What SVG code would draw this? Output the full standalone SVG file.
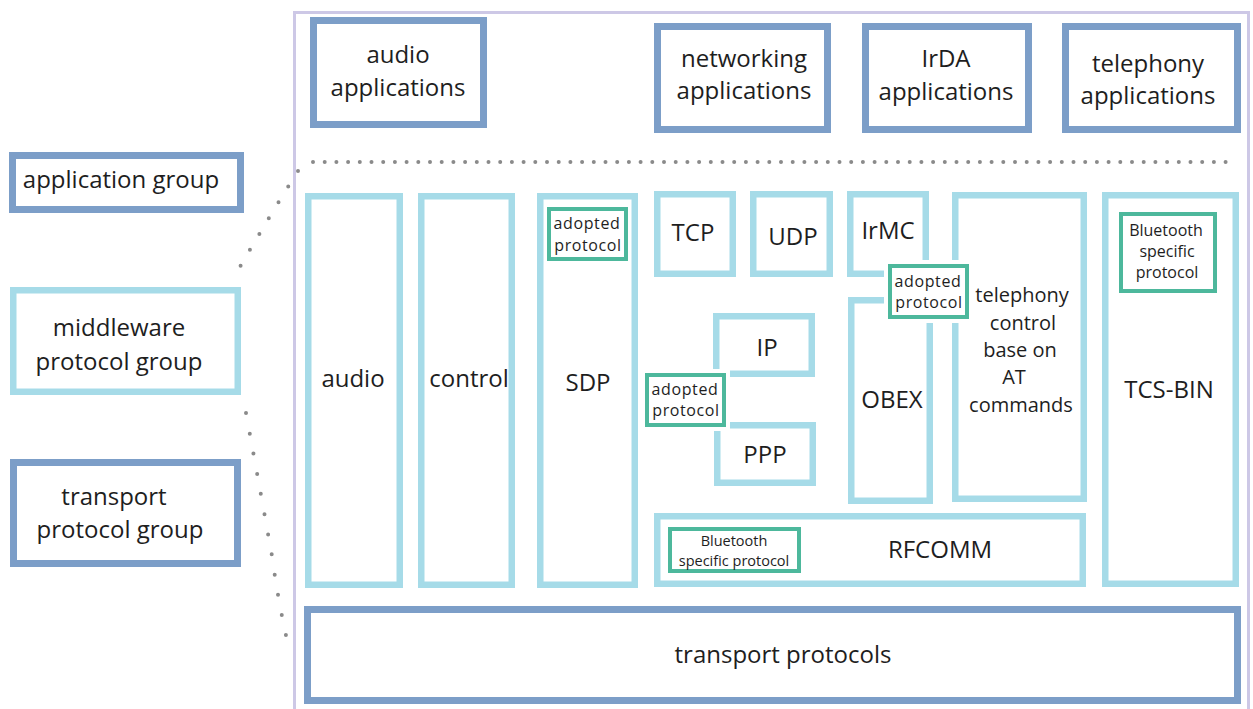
<svg xmlns="http://www.w3.org/2000/svg" width="1253" height="709" viewBox="0 0 1253 709">
<style>
text{font-family:"Open Sans","Liberation Sans",sans-serif;fill:#1e1e1e;text-anchor:middle}
.t{font-size:24px}
.m{font-size:20px}
.s{font-size:16px;letter-spacing:0.6px}
.xs{font-size:16px}
.xxs{font-size:14.5px}
.app{fill:#fff;stroke:#7c9ec8;stroke-width:7}
.mid{fill:#fff;stroke:#a6dbe8;stroke-width:6.5}
.ado{fill:#fff;stroke:#4db89c;stroke-width:4}
.pad{fill:#fff;stroke:none}
.dot{fill:none;stroke:#8a8a8a;stroke-width:4;stroke-linecap:round}
</style>
<rect width="1253" height="709" fill="#fff"/>
<rect id="container" x="294.5" y="12.5" width="954" height="710" fill="none" stroke="#cdc8e6" stroke-width="3"/>
<g id="connectors">
<path class="dot" d="M313,162 H1231" stroke-dasharray="0 11.7"/>
<path class="dot" d="M298,171 Q270,215 237,272" stroke-dasharray="0 18.5"/>
<path class="dot" d="M246,413 Q262,500 272,556 Q278,600 287,640" stroke-dasharray="0 20.5"/>
</g>
<g id="audio-applications"><rect class="app" x="313.5" y="20.5" width="170" height="104"/><text class="t" x="398" y="63">audio</text><text class="t" x="398" y="96">applications</text></g>
<g id="networking-applications"><rect class="app" x="657.5" y="26.5" width="170" height="103"/><text class="t" x="744" y="67">networking</text><text class="t" x="744" y="99">applications</text></g>
<g id="irda-applications"><rect class="app" x="865.5" y="26.5" width="163" height="103"/><text class="t" x="946" y="67">IrDA</text><text class="t" x="946" y="100">applications</text></g>
<g id="telephony-applications"><rect class="app" x="1065.5" y="26.5" width="172" height="103"/><text class="t" x="1148" y="72">telephony</text><text class="t" x="1148" y="104">applications</text></g>
<g id="application-group"><rect class="app" x="12.5" y="155.5" width="228" height="54"/><text class="t" x="121" y="188">application group</text></g>
<g id="middleware-protocol-group"><rect class="mid" x="13.25" y="290.25" width="224.5" height="101.5"/><text class="t" x="119" y="336">middleware</text><text class="t" x="119" y="370">protocol group</text></g>
<g id="transport-protocol-group"><rect class="app" x="13.5" y="462.5" width="224" height="101"/><text class="t" x="114" y="505">transport</text><text class="t" x="120" y="538">protocol group</text></g>
<g id="audio"><rect class="mid" x="308.25" y="196.25" width="91.5" height="388.5"/><text class="t" x="353" y="387">audio</text></g>
<g id="control"><rect class="mid" x="421.25" y="196.25" width="90.5" height="388.5"/><text class="t" x="469" y="387">control</text></g>
<g id="sdp"><rect class="mid" x="540.25" y="196.25" width="94.5" height="388.5"/><text class="t" x="588" y="391">SDP</text></g>
<g id="tcp"><rect class="mid" x="657.25" y="194.25" width="75.5" height="79.5"/><text class="t" x="693" y="241">TCP</text></g>
<g id="udp"><rect class="mid" x="753.25" y="194.25" width="76.5" height="79.5"/><text class="t" x="793" y="245">UDP</text></g>
<g id="irmc"><rect class="mid" x="850.25" y="194.25" width="75.5" height="79.5"/><text class="t" x="888" y="239">IrMC</text></g>
<g id="telephony-control"><rect class="mid" x="955.25" y="195.25" width="128.5" height="303.5"/><text class="m" x="1022" y="302">telephony</text><text class="m" x="1023" y="330">control</text><text class="m" x="1020" y="357">base on</text><text class="m" x="1014" y="384">AT</text><text class="m" x="1021" y="412">commands</text></g>
<g id="tcs-bin"><rect class="mid" x="1105.25" y="195.25" width="130.5" height="388.5"/><text class="t" x="1169" y="398">TCS-BIN</text></g>
<g id="ip"><rect class="mid" x="716.25" y="316.25" width="95.5" height="57.5"/><text class="t" x="767" y="356">IP</text></g>
<g id="ppp"><rect class="mid" x="717.25" y="425.25" width="95.5" height="57.5"/><text class="t" x="765" y="463">PPP</text></g>
<g id="obex"><rect class="mid" x="851.25" y="300.25" width="78.5" height="200.5"/><text class="t" x="892" y="408">OBEX</text></g>
<g id="rfcomm"><rect class="mid" x="657.25" y="516.25" width="425.5" height="67.5"/><text class="t" x="940" y="558">RFCOMM</text></g>
<g id="transport-protocols"><rect class="app" x="307.5" y="609.5" width="930" height="91"/><text class="t" x="783" y="663">transport protocols</text></g>
<g id="sdp-adopted"><rect class="ado" x="549" y="209" width="77" height="50"/><text class="s" x="587" y="229">adopted</text><text class="s" x="588" y="251">protocol</text></g>
<g id="irmc-adopted"><rect class="pad" x="884" y="260" width="89" height="63"/><rect class="ado" x="890" y="266" width="77" height="51"/><text class="s" x="928" y="287">adopted</text><text class="s" x="929" y="308">protocol</text></g>
<g id="ip-adopted"><rect class="pad" x="641" y="369" width="89" height="62"/><rect class="ado" x="647" y="375" width="77" height="50"/><text class="s" x="685" y="395">adopted</text><text class="s" x="686" y="416">protocol</text></g>
<g id="tcs-bluetooth"><rect class="ado" x="1121" y="214" width="94" height="77"/><text class="xs" x="1166" y="236">Bluetooth</text><text class="xs" x="1167" y="257">specific</text><text class="xs" x="1167" y="278">protocol</text></g>
<g id="rfcomm-bluetooth"><rect class="ado" x="670" y="529" width="129" height="42"/><text class="xxs" x="734" y="546">Bluetooth</text><text class="xxs" x="734" y="566">specific protocol</text></g>
</svg>
